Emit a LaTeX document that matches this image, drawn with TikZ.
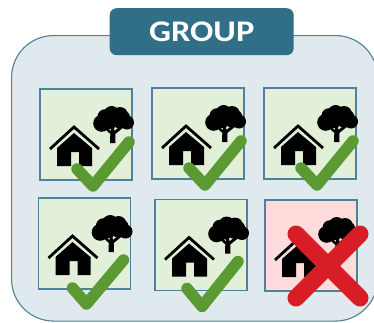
\documentclass[tikz,border=0pt]{standalone}
\usepackage{fontspec}
\usepackage{graphicx}
\setmainfont{Carlito}
\definecolor{teal1}{HTML}{316E87}
\definecolor{panelfill}{HTML}{E0E9ED}
\definecolor{panelline}{HTML}{4F8199}
\definecolor{okfill}{HTML}{E2F0D9}
\definecolor{badfill}{HTML}{FFDCDC}
\definecolor{okmark}{HTML}{5B9A32}
\definecolor{badmark}{HTML}{D71E26}
\tikzset{
  x=1pt,y=-1pt,
  tile/.style={draw=panelline,line width=1.1pt,minimum width=92pt,minimum height=91pt,inner sep=0pt,outer sep=0pt,anchor=north west},
  oktile/.style={tile,fill=okfill},
  badtile/.style={tile,fill=badfill},
  ticksign/.style={draw=okmark,line width=11.5pt,line cap=round,line join=round},
  crosssign/.style={draw=badmark,line width=17pt,line cap=round},
  pics/scene/.style={code={
    % tree
    \fill[black] (70,54) -- (70.3,45) -- (63,38) -- (65,36.5) -- (71,42) -- (71.5,36) -- (74,36) -- (74.3,42) -- (82,36) -- (84,38) -- (75.3,45) -- (75.5,54) -- cycle;
    \fill[black] (61.7,34.3) circle (8.5) (65,27.7) circle (7.5) (71.7,25) circle (8) (80,26) circle (8) (87,33.5) circle (7) (70,32) circle (8) (80,31) circle (8.5) (84,28) circle (6);
    % house
    \draw[black,line width=2.8pt] (10,60) -- (34,38) -- (59,60);
    \fill[black] (17,77) -- (17,59) -- (34,44) -- (52,59) -- (52,77) -- (39,77) -- (39,63) -- (31,63) -- (31,77) -- cycle;
  }}
}
\begin{document}
\begin{tikzpicture}
\useasboundingbox (0,0) rectangle (374,322);
\begin{scope}
\clip (0,0) rectangle (374,322);
\node[draw=panelline,line width=1.1pt,fill=panelfill,rounded corners=42pt,minimum width=366pt,minimum height=285.5pt,inner sep=0pt,anchor=north west] (panel) at (11,35) {};
\end{scope}
\node[fill=teal1,rounded corners=7pt,minimum width=184pt,minimum height=47pt,inner sep=0pt,anchor=north west,text=white,font=\bfseries\fontsize{30}{30}\selectfont] (title) at (109.5,8) {\scalebox{1.15}[1]{GROUP}};

\node[oktile] (t1) at (40,89) {};
\pic at (t1.north west) {scene};
\coordinate (c1a) at ([shift={(37,80)}]t1.north west);
\coordinate (c1b) at ([shift={(53,97)}]t1.north west);
\coordinate (c1c) at ([shift={(89,53)}]t1.north west);
\draw[ticksign] (c1a) -- (c1b) -- (c1c);

\node[oktile] (t2) at (152,88) {};
\pic at (t2.north west) {scene};
\coordinate (c2a) at ([shift={(37,80)}]t2.north west);
\coordinate (c2b) at ([shift={(53,97)}]t2.north west);
\coordinate (c2c) at ([shift={(89,53)}]t2.north west);
\draw[ticksign] (c2a) -- (c2b) -- (c2c);

\node[oktile] (t3) at (264,88) {};
\pic at (t3.north west) {scene};
\coordinate (c3a) at ([shift={(37,80)}]t3.north west);
\coordinate (c3b) at ([shift={(53,97)}]t3.north west);
\coordinate (c3c) at ([shift={(89,53)}]t3.north west);
\draw[ticksign] (c3a) -- (c3b) -- (c3c);

\node[oktile] (t4) at (38.5,198) {};
\pic at (t4.north west) {scene};
\coordinate (c4a) at ([shift={(34,90)}]t4.north west);
\coordinate (c4b) at ([shift={(48,106)}]t4.north west);
\coordinate (c4c) at ([shift={(85,62)}]t4.north west);
\draw[ticksign] (c4a) -- (c4b) -- (c4c);

\node[oktile] (t5) at (155,199.5) {};
\pic at (t5.north west) {scene};
\coordinate (c5a) at ([shift={(32,89)}]t5.north west);
\coordinate (c5b) at ([shift={(47,107)}]t5.north west);
\coordinate (c5c) at ([shift={(83,62)}]t5.north west);
\draw[ticksign] (c5a) -- (c5b) -- (c5c);

\node[badtile] (t6) at (265,200) {};
\pic at (t6.north west) {scene};
\coordinate (x1) at (296,234);
\coordinate (x2) at (360,298);
\coordinate (x3) at (360,234);
\coordinate (x4) at (296,298);
\draw[crosssign] (x1) -- (x2) (x3) -- (x4);
\end{tikzpicture}
\end{document}
